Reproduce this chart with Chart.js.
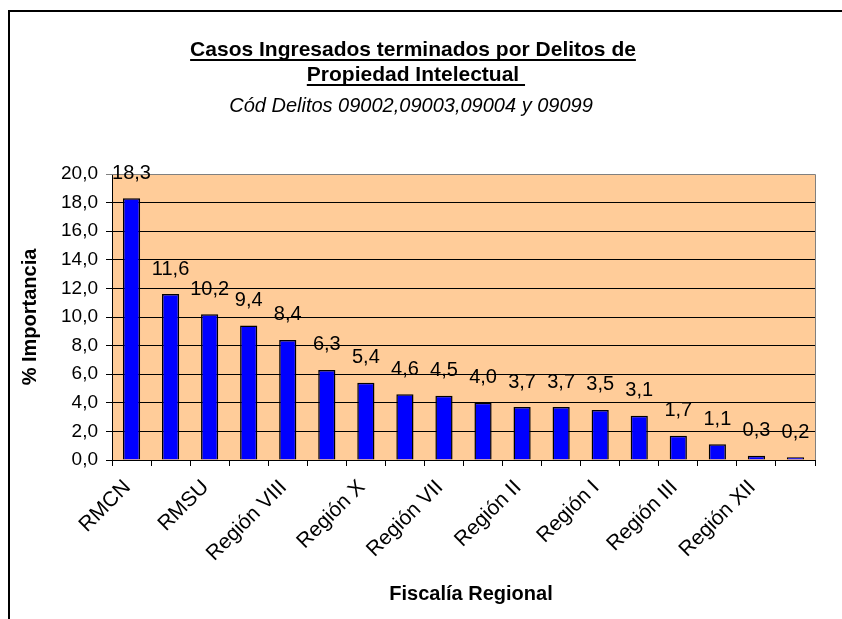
<!DOCTYPE html>
<html><head><meta charset="utf-8">
<script src="https://cdn.jsdelivr.net/npm/chart.js@4/dist/chart.umd.min.js"></script>
<style>
html,body{margin:0;padding:0;background:#fff;}
#wrap{position:relative;width:842px;height:619px;overflow:hidden;}
#frame{position:absolute;left:8px;top:10px;width:900px;height:700px;border:2px solid #000;box-sizing:border-box;}
canvas{position:absolute;left:0;top:0;}
</style></head><body>
<div id="wrap"><div id="frame"></div><canvas id="c" width="842" height="619"></canvas></div>
<script>
const categories = ['RMCN','RMOR','RMSU','Región V','Región VIII','RMOC','Región X','Región IX','Región VII','Región VI','Región II','Región IV','Región I','Región XI','Región III','Región XV','Región XII','Región XIV'];
const values = [18.3,11.6,10.2,9.4,8.4,6.3,5.4,4.6,4.5,4.0,3.7,3.7,3.5,3.1,1.7,1.1,0.3,0.2];
const yTicks = [0,2,4,6,8,10,12,14,16,18,20];
const titleLines = ['Casos Ingresados terminados por Delitos de','Propiedad Intelectual'];
const subtitle = 'Cód Delitos 09002,09003,09004 y 09099';
const yAxisTitle = '% Importancia';
const xAxisTitle = 'Fiscalía Regional';

const FONT = "'Liberation Sans', Arial, sans-serif";
const fmt = v => v.toFixed(1).replace('.', ',');

const decor = {
  id: 'decor',
  beforeDraw(chart) {
    const {ctx, chartArea: a} = chart;
    ctx.save();
    ctx.fillStyle = '#FFCC99';
    ctx.fillRect(a.left, a.top, a.right - a.left, a.bottom - a.top);
    ctx.restore();
  },
  afterDatasetsDraw(chart) {
    const {ctx, chartArea: a} = chart;
    ctx.save();
    ctx.strokeStyle = '#808080';
    ctx.lineWidth = 1;
    ctx.beginPath();
    ctx.moveTo(a.left, a.top + 0.5); ctx.lineTo(a.right + 0.5, a.top + 0.5); ctx.lineTo(a.right + 0.5, a.bottom);
    ctx.stroke();
    const meta = chart.getDatasetMeta(0);
    ctx.fillStyle = '#000';
    ctx.font = '20px ' + FONT;
    ctx.textAlign = 'center';
    ctx.textBaseline = 'middle';
    meta.data.forEach((bar, i) => {
      ctx.fillText(fmt(values[i]), bar.x, bar.y - 25);
    });
    ctx.restore();
  },
  afterDraw(chart) {
    const {ctx} = chart;
    ctx.save();
    ctx.fillStyle = '#000';
    ctx.strokeStyle = '#000';
    ctx.textAlign = 'center';
    ctx.textBaseline = 'middle';
    ctx.font = 'bold 21px ' + FONT;
    const cx = 413;
    const ys = [50, 75];
    titleLines.forEach((t, i) => {
      ctx.fillText(t, cx, ys[i]);
      const w = ctx.measureText(t + (i === 1 ? ' ' : '')).width;
      const x0 = cx - ctx.measureText(t).width / 2;
      ctx.lineWidth = 2;
      ctx.beginPath();
      ctx.moveTo(x0, ys[i] + 10); ctx.lineTo(x0 + w, ys[i] + 10);
      ctx.stroke();
    });
    ctx.font = 'italic 20px ' + FONT;
    ctx.fillText(subtitle, 411, 106);
    ctx.font = 'bold 20px ' + FONT;
    ctx.fillText(xAxisTitle, 471, 594);
    ctx.translate(30, 317);
    ctx.rotate(-Math.PI / 2);
    ctx.fillText(yAxisTitle, 0, 0);
    ctx.restore();
  }
};

new Chart(document.getElementById('c'), {
  type: 'bar',
  data: {
    labels: categories,
    datasets: [{
      data: values,
      backgroundColor: '#0000FF',
      borderColor: '#000',
      borderWidth: 1.5,
      barPercentage: 0.44,
      categoryPercentage: 1.0
    }]
  },
  options: {
    responsive: false,
    animation: false,
    layout: {padding: {top: 174, right: 27, left: 0, bottom: 0}},
    plugins: {legend: {display: false}, tooltip: {enabled: false}, title: {display: false}},
    scales: {
      x: {
        offset: true,
        grid: {offset: true, drawOnChartArea: false, drawTicks: true, tickLength: 6, color: '#000'},
        border: {display: true, color: '#000', width: 1},
        ticks: {
          autoSkip: false, maxRotation: 45, minRotation: 45, padding: 5,
          color: '#000', font: {family: FONT, size: 21},
          callback: (v, i) => (i % 2 === 0 ? categories[i] + ' ' : '')
        },
        afterFit: s => { s.height = 159; }
      },
      y: {
        min: 0, max: 20,
        afterBuildTicks: s => { s.ticks = yTicks.map(v => ({value: v})); },
        grid: {color: ctx => (ctx.tick && ctx.tick.value === 20 ? '#808080' : '#000'), tickLength: 6},
        border: {display: true, color: '#000', width: 1},
        ticks: {color: '#000', padding: 8, font: {family: FONT, size: 19}, callback: v => fmt(v)},
        afterFit: s => { s.width = 112; }
      }
    }
  },
  plugins: [decor]
});
</script>
</body></html>
